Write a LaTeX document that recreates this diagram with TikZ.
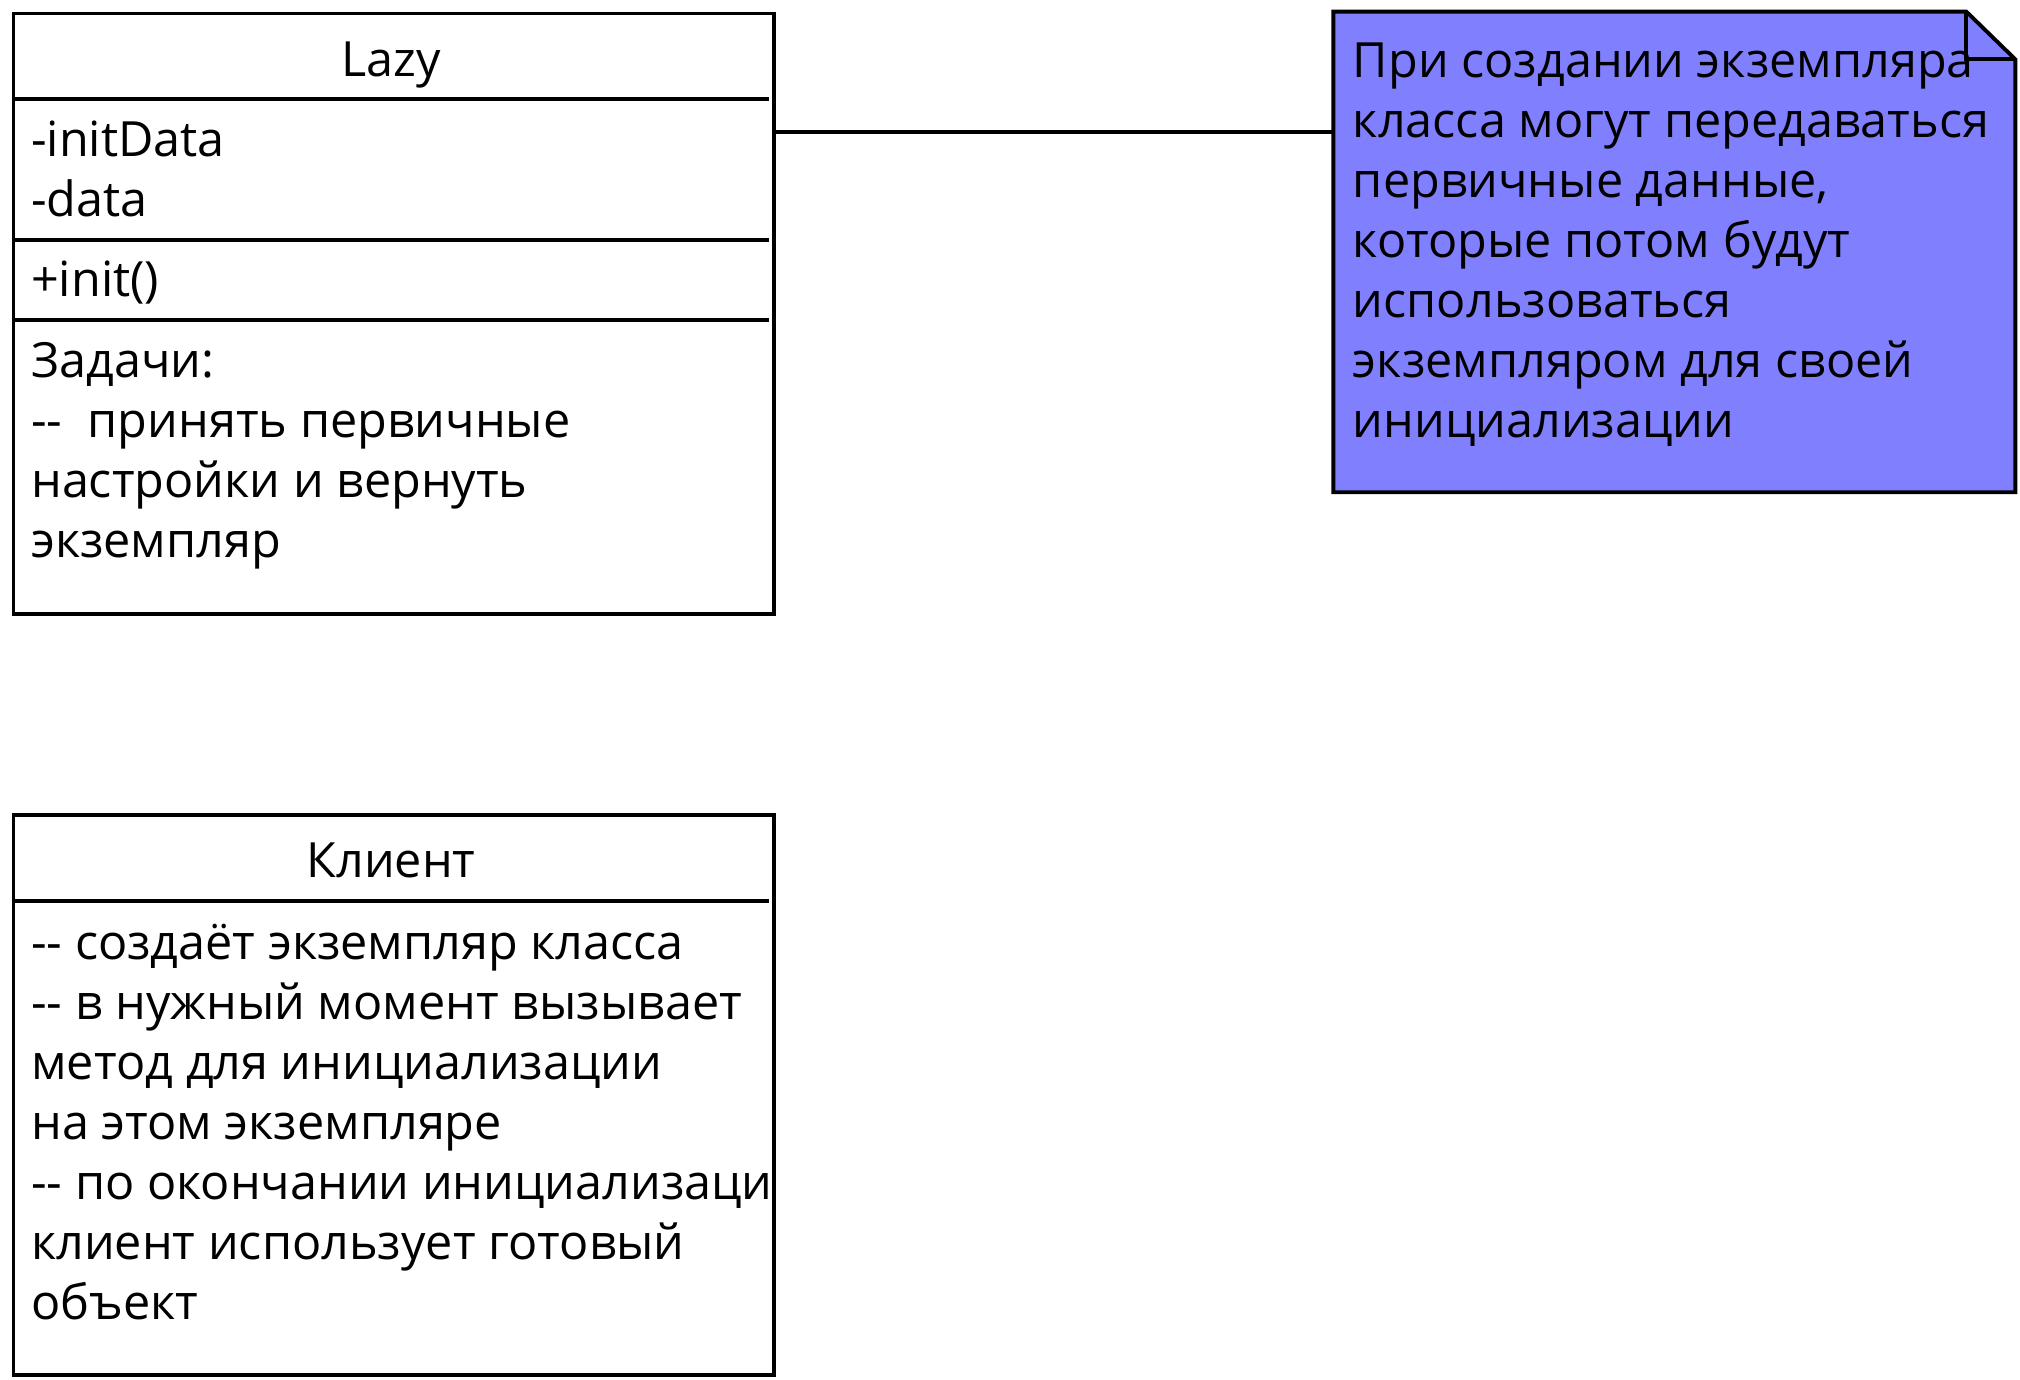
\documentclass[tikz,border=0pt]{standalone}
\usepackage{fontspec}
\setmainfont{Open Sans}
\usepackage{tikz}
\usetikzlibrary{calc}

\definecolor{notefill}{RGB}{128,128,255}

\begin{document}
\begin{tikzpicture}[
        x=1pt, y=-1pt,
        classbox/.style={draw, line width=3pt, anchor=north west, inner sep=0pt},
        sep/.style={line width=3pt},
        txt/.style={anchor=base west, align=left, inner sep=0pt,
            font=\fontsize{37.6}{46.5}\selectfont},
        title/.style={anchor=base, inner sep=0pt, font=\fontsize{37.6}{46.5}\selectfont}
    ]

        % Fix the page size
        \useasboundingbox (0,0) rectangle (1565,1069);

        % Class Lazy (multi-line texts sit on the baseline of their last line)
        \node[classbox, minimum width=589pt, minimum height=465pt] (lazy) at (9,9) {};
        \node[title] (lazyname) at (303,59) {Lazy};
        \draw[sep] (9,77) -- (596,77);
        \node[txt] (lazyattr) at (24,168) {-initData\\-data};
        \draw[sep] (9,186) -- (596,186);
        \node[txt] (lazyop) at (24,230) {+init()};
        \draw[sep] (9,248) -- (596,248);
        \node[txt] (lazytask) at (24,432) {Задачи:\\-{}-\ \ принять первичные\\настройки и вернуть\\экземпляр};

        % Note with folded corner
        \node[anchor=north west, inner sep=0pt, minimum width=528pt, minimum height=372pt] (note) at (1033,9) {};
        \draw[line width=3pt, fill=notefill, line join=miter]
            (note.north west) -- ($(note.north east)+(-38,0)$) -- ($(note.north east)+(0,37)$)
            -- (note.south east) -- (note.south west) -- cycle;
        \draw[line width=3pt] ($(note.north east)+(-38,0)$) -- ($(note.north east)+(-38,37)$)
            -- ($(note.north east)+(0,37)$);
        \node[txt] (notetext) at (1048,339) {При создании экземпляра\\класса могут передаваться\\первичные данные,\\которые потом будут\\использоваться\\экземпляром для своей\\инициализации};

        % Link from Lazy to the note
        \draw[line width=3pt] ([yshift=-93pt]lazy.north east) -- ([yshift=-93pt]note.north west);

        % Class Клиент
        \node[classbox, minimum width=589pt, minimum height=434pt] (client) at (9,630) {};
        \node[title] (clientname) at (303,680) {Клиент};
        \draw[sep] (9,698) -- (596,698);
        \begin{scope}
            \clip (10,700) rectangle (597,1062);
            \node[txt] (clienttext) at (24,1022) {-{}- создаёт экземпляр класса\\-{}- в нужный момент вызывает\\метод для инициализации\\на этом экземпляре\\-{}- по окончании инициализации\\клиент использует готовый\\объект};
        \end{scope}

    \end{tikzpicture}
\end{document}
